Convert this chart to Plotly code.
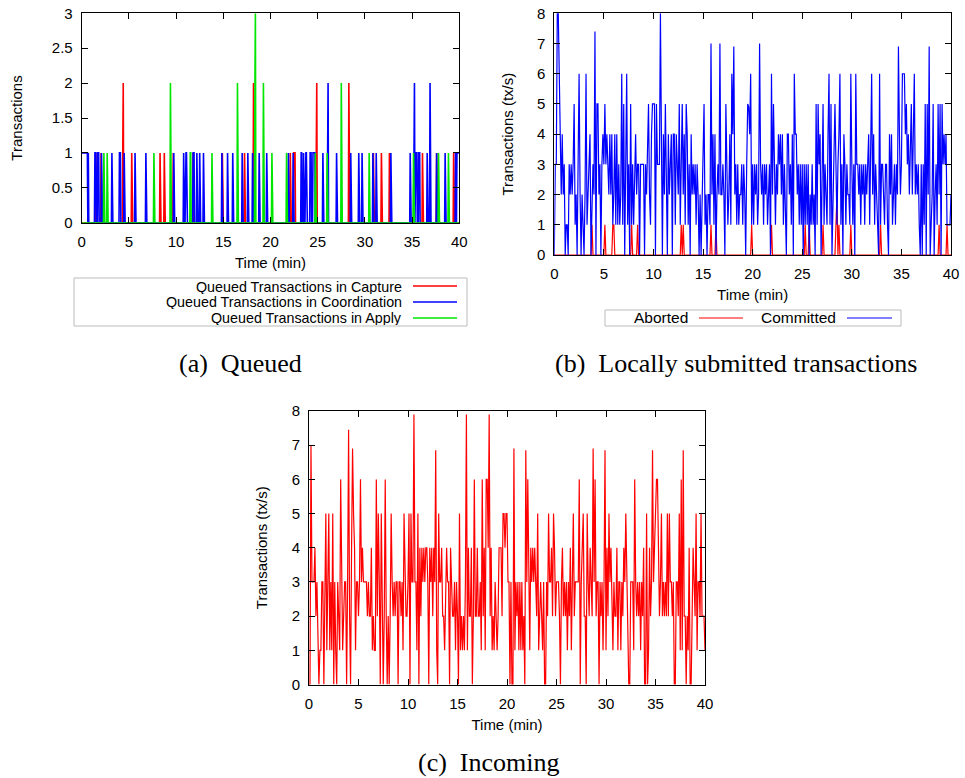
import numpy as np
import plotly.graph_objects as go

# ---------------- DATA ----------------
# (a) Queued transactions: sparse segments (start_min, end_min, value), 0 elsewhere
queued_step = 0.05
capture_segments = [
    (1.5, 1.5, 1), (2.05, 2.05, 1), (4.35, 4.35, 1), (4.4, 4.4, 2), (5.3, 5.3, 1),
    (8.3, 8.3, 1), (8.75, 8.75, 1), (9.7, 9.7, 1), (11.8, 11.8, 1), (14.9, 14.9, 1),
    (17.25, 17.25, 1), (18.2, 18.2, 2), (22.1, 22.1, 1), (22.45, 22.6, 1),
    (24.85, 24.85, 1), (24.9, 24.9, 2), (28.3, 28.3, 2), (30.9, 30.9, 1),
    (31.75, 31.75, 1), (32.6, 32.6, 1), (36.1, 36.1, 1), (37.6, 37.6, 1), (39.4, 39.4, 1),
]
coordination_segments = [
    (0.0, 0.6, 1), (0.7, 0.7, 1), (1.4, 1.5, 1), (1.7, 1.8, 1), (2.1, 2.1, 1),
    (3.2, 3.2, 1), (4.0, 4.1, 1), (4.5, 4.5, 1), (5.65, 5.65, 1), (6.8, 6.8, 1),
    (9.75, 9.75, 1), (10.8, 10.8, 1), (11.0, 11.1, 1), (11.8, 11.9, 1), (12.2, 12.2, 1),
    (12.5, 12.5, 1), (12.9, 12.9, 1), (14.85, 14.85, 1), (15.45, 15.45, 1), (16.0, 16.0, 1),
    (17.0, 17.0, 1), (17.6, 17.6, 1), (18.1, 18.1, 1), (18.8, 18.8, 1), (19.6, 19.6, 1),
    (21.9, 21.9, 1), (22.4, 22.4, 1), (23.25, 23.3, 1), (23.5, 23.5, 1), (23.7, 23.8, 1),
    (24.2, 24.3, 1), (24.5, 24.7, 1), (25.55, 25.55, 1), (26.05, 26.05, 1), (26.1, 26.1, 2),
    (27.0, 27.0, 1), (28.5, 28.5, 1), (29.35, 29.35, 1), (29.7, 29.7, 1), (30.85, 30.85, 1),
    (31.2, 31.2, 1), (32.75, 32.75, 1), (34.8, 34.8, 1), (35.2, 35.2, 1), (35.25, 35.25, 2),
    (35.35, 35.5, 1), (35.7, 35.8, 1), (36.6, 36.6, 1), (36.9, 36.9, 2), (37.6, 37.6, 1),
    (38.5, 38.5, 1), (39.6, 39.6, 1), (39.75, 40.0, 1),
]
apply_segments = [
    (2.35, 2.35, 1), (2.7, 2.7, 1), (7.65, 7.65, 1), (9.4, 9.4, 2), (11.5, 11.55, 1),
    (13.8, 13.8, 1), (16.5, 16.5, 2), (18.35, 18.35, 2), (18.4, 18.4, 3), (19.25, 19.25, 2),
    (20.15, 20.15, 1), (21.7, 21.7, 1), (24.75, 24.75, 1), (26.0, 26.0, 1), (27.5, 27.5, 2),
    (30.45, 30.45, 1), (35.15, 35.15, 1), (37.8, 37.8, 1), (38.85, 38.85, 1),
]

# (b) Locally submitted: committed rate every 0.1 min (tx/s)
rate_step = 0.1
committed = [
    0, 3, 3, 8, 8, 6, 3, 2, 4, 2, 3, 0, 1, 1, 0, 3, 2, 3, 2, 3,
    5, 1, 2, 0, 3, 6, 2, 0, 2, 1, 0, 2, 6, 1, 2, 3, 4, 0, 2, 3,
    2, 7.4, 0, 5, 5, 2, 3, 0, 3, 4, 3, 5, 3, 4, 3, 2, 4, 2, 4, 1,
    2, 4, 1, 4, 1, 3, 1, 2, 6, 1, 5, 0, 3, 6, 1, 3, 0, 5, 1, 3,
    1, 3, 4, 2, 3, 3, 0, 3, 3, 3, 3, 0, 3, 2, 4, 5, 2, 1, 4, 5,
    5, 5, 0, 5, 3, 3, 3, 8, 3, 0, 4, 2, 5, 2, 0, 4, 2, 3, 4, 0,
    4, 4, 1, 4, 3, 2, 5, 1, 3, 5, 2, 4, 1, 5, 4, 1, 3, 0, 4, 2,
    3, 2, 3, 1, 3, 2, 0, 2, 0, 2, 3, 5, 1, 2, 0, 2, 2, 1, 7, 2,
    4, 1, 4, 0, 2, 3, 2, 7, 2, 2, 3, 2, 0, 5, 3, 1, 2, 4, 1, 6,
    4, 6.9, 2, 3, 1, 3, 1, 2, 2, 3, 1, 3, 2, 0, 3, 5, 4.9, 4, 6, 1,
    3, 1, 3, 2, 3, 1, 2, 7, 3, 2, 3, 1, 3, 2, 3, 1, 2, 3, 0, 6,
    2, 5, 3, 1, 3, 2, 4, 3, 4, 2, 4, 1, 3, 1, 0, 4, 4, 2, 3, 1,
    4, 0, 6, 4, 4, 2, 3, 1, 3, 1, 3, 0, 3, 1, 3, 1, 3, 0, 2, 1,
    3, 1, 2, 0, 5, 1, 5, 3, 4, 0, 3, 5, 1, 3, 2, 1, 4, 6, 1, 5,
    0, 2, 4, 5, 3, 1, 3, 4, 6, 1, 3, 0, 4, 3, 1, 3, 2, 2, 1, 6,
    3, 1, 3, 0, 6, 3, 3, 2, 3, 1, 3, 2, 3, 1, 3, 2, 3, 4, 1, 3,
    6, 2, 4, 1, 3, 2, 1, 0, 6, 1, 3, 3, 2, 1, 3, 3, 1, 0, 4, 2,
    4, 1, 2, 3, 1, 3, 2, 6.9, 4, 2, 3, 6, 6, 6, 4, 5, 3, 4, 2, 4,
    5, 2, 4, 6, 2, 3, 2, 3, 1, 0, 3, 0, 3, 1, 5, 0, 5, 2, 6.9, 0,
    1, 2, 5, 0, 2, 3, 1, 5, 2, 5, 0, 5, 3, 4, 3, 4, 1, 1, 1, 1,
    2,
]
# aborted: sparse events (minute, tx/s), 0 elsewhere
aborted_events = [
    (3.8, 1), (5.1, 1), (5.9, 1), (6.0, 1), (7.8, 1), (8.4, 1), (12.8, 1), (13.0, 1),
    (15.8, 1), (16.3, 1), (19.9, 1), (21.9, 1), (25.3, 1), (25.7, 1), (27.1, 1),
    (28.4, 1), (28.5, 2), (28.7, 1), (29.9, 1), (32.9, 1), (38.8, 1), (39.6, 1),
]

# (c) Incoming rate every 0.1 min (tx/s)
incoming = [
    0, 0, 7, 3, 3, 3, 4, 2, 3, 1, 0, 1, 1, 3, 3, 0, 3, 5, 1, 3,
    5, 1, 3, 1, 5, 0, 3, 1, 0, 3, 2, 1, 6, 3, 1, 2, 3, 3, 0, 3,
    7.45, 2, 0, 4, 6.9, 5, 4, 1, 3, 3, 2, 3, 6, 3, 4, 3, 3, 3, 3, 2,
    3, 2, 2, 4, 1, 2, 1, 1, 6, 2, 5, 3, 0, 5, 2, 0, 2, 6, 2, 0,
    2, 0, 2, 5, 3, 2, 3, 2, 3, 3, 0, 3, 3, 2, 3, 1, 5, 3, 2, 2,
    3, 5, 0, 5, 3, 3, 7.9, 3, 3, 1, 5, 0, 4, 2, 4, 3, 4, 3, 4, 4,
    3, 0, 4, 3, 4, 2, 4, 3, 6.85, 1, 0, 5, 3, 3, 4, 2, 2, 1, 3, 4,
    3, 3, 0, 4, 3, 2, 2, 3, 1, 3, 2, 0, 5, 1, 2, 1, 2, 1, 3, 7.9,
    1, 4, 2, 2, 4, 0, 2, 6, 2, 2, 4, 2, 2, 3, 1, 6, 2, 4, 1, 6,
    6, 4, 7.9, 2, 4, 1, 2, 1, 3, 2, 1, 2, 4, 4, 4, 2, 5, 5, 4, 5,
    5, 3, 3, 0, 3, 0, 0, 6.9, 1, 3, 2, 3, 1, 3, 1, 3, 1, 2, 0, 6.85,
    3, 6, 2, 1, 4, 3, 4, 3, 4, 3, 2, 5, 1, 2, 3, 2, 1, 3, 0, 0,
    3, 2, 5, 3, 3, 4, 2, 5, 4, 2, 3, 3, 3, 2, 0, 3, 4, 2, 3, 2,
    3, 1, 3, 2, 4, 1, 3, 5, 2, 3, 3, 3, 3, 6, 0, 3, 4, 5, 2, 2,
    0, 5, 3, 2, 4, 3, 2, 6.9, 3, 6, 2, 3, 3, 0, 3, 2, 3, 1, 3, 6.85,
    1, 4, 2, 5, 3, 4, 2, 1, 3, 2, 2, 4, 1, 3, 3, 1, 3, 2, 4, 3,
    5, 3, 1, 0, 0, 3, 3, 3, 1, 6, 3, 2, 3, 2, 3, 1, 3, 2, 4, 0,
    0, 5, 0, 1, 4, 2, 3, 6.85, 3, 4, 5, 6, 6, 4, 2, 3, 5, 2, 3, 2,
    3, 2, 5, 2, 5, 3, 3, 2, 3, 0, 0, 3, 3, 2, 5, 1, 6, 1, 6.85, 2,
    2, 0, 2, 1, 4, 0, 0, 2, 4, 3, 2, 5, 1, 3, 3, 2, 5, 2, 2, 2,
    1,
]

x_ticks = [0, 5, 10, 15, 20, 25, 30, 35, 40]
ya_ticks = [0, 0.5, 1, 1.5, 2, 2.5, 3]
ya_labels = ["0", "0.5", "1", "1.5", "2", "2.5", "3"]
yb_ticks = [0, 1, 2, 3, 4, 5, 6, 7, 8]

queued_names = ["Queued Transactions in Capture", "Queued Transactions in Coordination",
                "Queued Transactions in Apply"]
rate_names = ["Aborted", "Committed"]
captions = ["(a)  Queued", "(b)  Locally submitted transactions", "(c)  Incoming"]

# ---------------- BUILD SERIES ----------------
qt = np.round(np.arange(0, 40 + queued_step / 2, queued_step), 4)


def from_segments(segs):
    arr = np.zeros(len(qt))
    for s, e, v in segs:
        i0 = int(round(s / queued_step))
        i1 = int(round(e / queued_step))
        arr[i0:i1 + 1] = v
    return arr


rt = np.round(np.arange(0, 40 + rate_step / 2, rate_step), 4)
aborted = np.zeros(len(rt))
for t, v in aborted_events:
    aborted[int(round(t / rate_step))] = v

W, H = 965, 778


def px(x):
    return x / W


def py(y):
    return 1 - y / H


RED, BLUE, GREEN = "#ff0000", "#0000ff", "#00e600"
FONT = "Liberation Sans, Arial, sans-serif"
SERIF = "Liberation Serif, Times New Roman, serif"

fig = go.Figure()
q_series = [from_segments(capture_segments), from_segments(coordination_segments),
            from_segments(apply_segments)]
q_colors = [RED, BLUE, GREEN]
for name, ys, c in zip(queued_names, q_series, q_colors):
    fig.add_trace(go.Scatter(x=qt, y=ys, mode="lines", name=name,
                             line=dict(color=c, width=1.6), xaxis="x", yaxis="y"))

fig.add_trace(go.Scatter(x=rt, y=aborted, mode="lines", name=rate_names[0],
                         line=dict(color=RED, width=1.2), xaxis="x2", yaxis="y2"))
fig.add_trace(go.Scatter(x=rt, y=committed, mode="lines", name=rate_names[1],
                         line=dict(color=BLUE, width=1.2), xaxis="x2", yaxis="y2"))
fig.add_trace(go.Scatter(x=rt, y=incoming, mode="lines", name="Incoming",
                         line=dict(color=RED, width=1.2), xaxis="x3", yaxis="y3"))


def axis(domain, rng, tickvals, ticktext=None, title=None, anchor=None, standoff=8):
    d = dict(domain=domain, range=rng, tickvals=tickvals, showline=True, linecolor="black",
             linewidth=1, mirror="allticks", ticks="inside", ticklen=6, tickcolor="black",
             showgrid=False, zeroline=False, automargin=False, anchor=anchor,
             tickfont=dict(family=FONT, size=15, color="black"), ticklabelstandoff=5)
    if ticktext is not None:
        d["ticktext"] = ticktext
    if title:
        d["title"] = dict(text=title, font=dict(family=FONT, size=15, color="black"),
                          standoff=standoff)
    return d


xa = [px(81.7), px(459.3)]
ya = [py(222.7), py(13.3)]
xb = [px(554.3), px(951)]
yb = [py(255), py(13.3)]
xc = [px(309), px(705)]
yc = [py(684.5), py(411)]

fig.update_layout(
    width=W, height=H, margin=dict(l=0, r=0, t=0, b=0),
    paper_bgcolor="white", plot_bgcolor="white", showlegend=False,
    xaxis=axis(xa, [0, 40], x_ticks, title="Time (min)", anchor="y"),
    yaxis=axis(ya, [0, 3], ya_ticks, ya_labels, title="Transactions", anchor="x", standoff=25),
    xaxis2=axis(xb, [0, 40], x_ticks, title="Time (min)", anchor="y2"),
    yaxis2=axis(yb, [0, 8], yb_ticks, title="Transactions (tx/s)", anchor="x2", standoff=19),
    xaxis3=axis(xc, [0, 40], x_ticks, title="Time (min)", anchor="y3"),
    yaxis3=axis(yc, [0, 8], yb_ticks, title="Transactions (tx/s)", anchor="x3", standoff=20),
)

# ---------------- LEGENDS (gnuplot style: text then line sample) ----------------
shapes = []
annotations = []
shapes.append(dict(type="rect", xref="paper", yref="paper", x0=px(74), x1=px(467),
                   y0=py(326), y1=py(278), line=dict(color="#bbbbbb", width=1)))
for i, (name, c) in enumerate(zip(queued_names, q_colors)):
    yy = 286 + i * 16
    annotations.append(dict(text=name, xref="paper", yref="paper", x=px(403), y=py(yy),
                            xanchor="right", yanchor="middle", showarrow=False,
                            height=15, borderpad=0,
                            font=dict(family=FONT, size=14.3, color="black")))
    shapes.append(dict(type="line", xref="paper", yref="paper", x0=px(413), x1=px(457),
                       y0=py(yy), y1=py(yy), line=dict(color=c, width=1.4)))

shapes.append(dict(type="rect", xref="paper", yref="paper", x0=px(605), x1=px(901),
                   y0=py(326), y1=py(310), line=dict(color="#bbbbbb", width=1)))
for name, c, tx, l0, l1 in [(rate_names[0], RED, 689, 699, 743),
                            (rate_names[1], BLUE, 837, 847, 892)]:
    annotations.append(dict(text=name, xref="paper", yref="paper", x=px(tx), y=py(318),
                            xanchor="right", yanchor="middle", showarrow=False,
                            height=15, borderpad=0,
                            font=dict(family=FONT, size=15.5, color="black")))
    shapes.append(dict(type="line", xref="paper", yref="paper", x0=px(l0), x1=px(l1),
                       y0=py(318), y1=py(318), line=dict(color=c, width=1.2)))

# ---------------- CAPTIONS ----------------
for text, cx, cy in [(captions[0], 240, 364), (captions[1], 736, 364), (captions[2], 489, 762)]:
    annotations.append(dict(text=text, xref="paper", yref="paper", x=px(cx), y=py(cy),
                            xanchor="center", yanchor="middle", showarrow=False,
                            font=dict(family=SERIF, size=26, color="black")))

fig.update_layout(shapes=shapes, annotations=annotations)
fig.write_html("out.html")
